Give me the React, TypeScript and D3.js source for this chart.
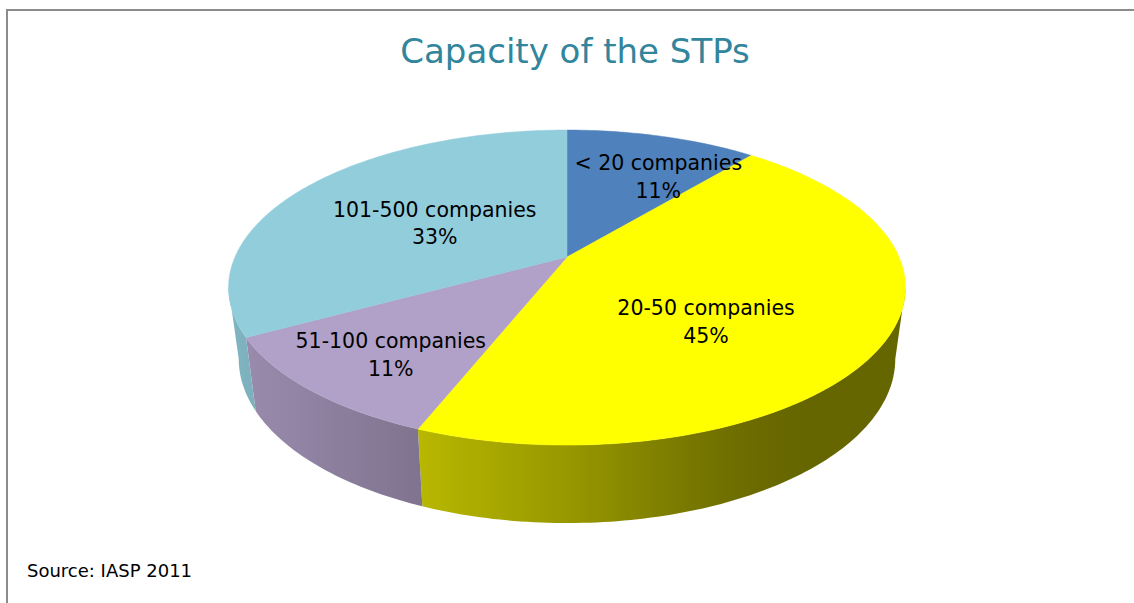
import React from 'react';
import * as d3 from 'd3';

// data
const categories = ['< 20 companies', '20-50 companies', '51-100 companies', '101-500 companies'];
const shares = [11, 45, 11, 33];
const shareLabels = ['11%', '45%', '11%', '33%'];
const sliceColors = ['#4F81BD', '#FFFF00', '#B1A0C7', '#92CDDC'];

// label placement: [angle shift from slice middle (deg), radius fraction]
const labelPlace: [number, number][] = [[10, 0.61], [18, 0.58], [-4, 0.77], [-7, 0.45]];

const W = 1134;
const H = 603;

// pseudo-perspective projection of the pie disk
const cx = 567;
const cy = 257;
const kx = 332;
const ky = 151.6;
const persp = 0.194;
const depth = 70;
const converge = 0.03;

const project = (theta: number, r: number, t: number): [number, number] => {
  const X = r * Math.sin(theta);
  const Z = r * Math.cos(theta);
  const w = 1 + persp * Z;
  const x = cx + ((kx * X) / w) * (1 - converge * t);
  const y = cy + (-ky * Z) / w + (depth * t) / Math.sqrt(w);
  return [x, y];
};

// side lighting as a function of screen x
const shade = d3.scaleLinear().domain([230, 420, 560, 700, 780, 910]).range([0.88, 0.72, 0.6, 0.46, 0.4, 0.4]).clamp(true);

const sampleAngles = (a0: number, a1: number) => {
  const n = Math.max(2, Math.ceil(((a1 - a0) / Math.PI) * 180));
  return d3.range(n + 1).map(i => a0 + ((a1 - a0) * i) / n);
};

const App = () => {
  const pie = d3.pie<number>().sort(null).value(d => d);
  const arcs = pie(shares);
  const line = d3.line();

  const visFrom = Math.PI - Math.acos(persp);
  const visTo = Math.PI + Math.acos(persp);

  const tops = arcs.map(a => {
    const pts = sampleAngles(a.startAngle, a.endAngle).map(th => project(th, 1, 0));
    return line([project(0, 0, 0), ...pts]) + 'Z';
  });

  const sides = arcs.map((a, i) => {
    const a0 = Math.max(a.startAngle, visFrom);
    const a1 = Math.min(a.endAngle, visTo);
    if (a1 <= a0) return null;
    const angs = sampleAngles(a0, a1);
    const topPts = angs.map(th => project(th, 1, 0));
    const botPts = angs.map(th => project(th, 1, 1)).reverse();
    const all = [...topPts, ...botPts];
    const xs = all.map(p => p[0]);
    const x0 = d3.min(xs) as number;
    const x1 = d3.max(xs) as number;
    const base = d3.rgb(sliceColors[i]);
    const stops = d3.range(11).map(j => {
      const x = x0 + ((x1 - x0) * j) / 10;
      const f = shade(x);
      return {
        off: j * 10,
        color: d3.rgb(base.r * f, base.g * f, base.b * f).formatHex(),
      };
    });
    return { d: line(all) + 'Z', x0, x1, stops, i };
  }).filter(Boolean) as { d: string; x0: number; x1: number; stops: { off: number; color: string }[]; i: number }[];

  const labels = arcs.map((a, i) => {
    const mid = (a.startAngle + a.endAngle) / 2 + (labelPlace[i][0] * Math.PI) / 180;
    const [x, y] = project(mid, labelPlace[i][1], 0);
    return { x, y, i };
  });

  return (
    <svg width={W} height={H} style={{ position: 'absolute', left: 0, top: 0, background: '#fff' }}>
      <defs>
        {sides.map(s => (
          <linearGradient key={s.i} id={`side-${s.i}`} gradientUnits="userSpaceOnUse" x1={s.x0} x2={s.x1} y1={0} y2={0}>
            {s.stops.map(st => (
              <stop key={st.off} offset={`${st.off}%`} stopColor={st.color} />
            ))}
          </linearGradient>
        ))}
      </defs>

      <line x1={6} x2={W} y1={10} y2={10} stroke="#8c8c8c" strokeWidth={2} />
      <line x1={7} x2={7} y1={9} y2={H} stroke="#8c8c8c" strokeWidth={2} />

      <text x={575} y={63} textAnchor="middle" fontFamily="DejaVu Sans" fontSize={34} fill="#31859C">
        Capacity of the STPs
      </text>

      {sides.map(s => (
        <path key={s.i} d={s.d} fill={`url(#side-${s.i})`} />
      ))}
      {tops.map((d, i) => (
        <path key={i} d={d} fill={sliceColors[i]} stroke={sliceColors[i]} strokeWidth={0.5} />
      ))}

      {labels.map(l => (
        <text key={l.i} x={l.x} textAnchor="middle" fontFamily="DejaVu Sans" fontSize={20.5} fill="#000">
          <tspan x={l.x} y={l.y - 13.8}>{categories[l.i]}</tspan>
          <tspan x={l.x} y={l.y + 13.8}>{shareLabels[l.i]}</tspan>
        </text>
      ))}

      <text x={27} y={577} fontFamily="DejaVu Sans" fontSize={18} fill="#000">
        Source: IASP 2011
      </text>
    </svg>
  );
};

export default App;
